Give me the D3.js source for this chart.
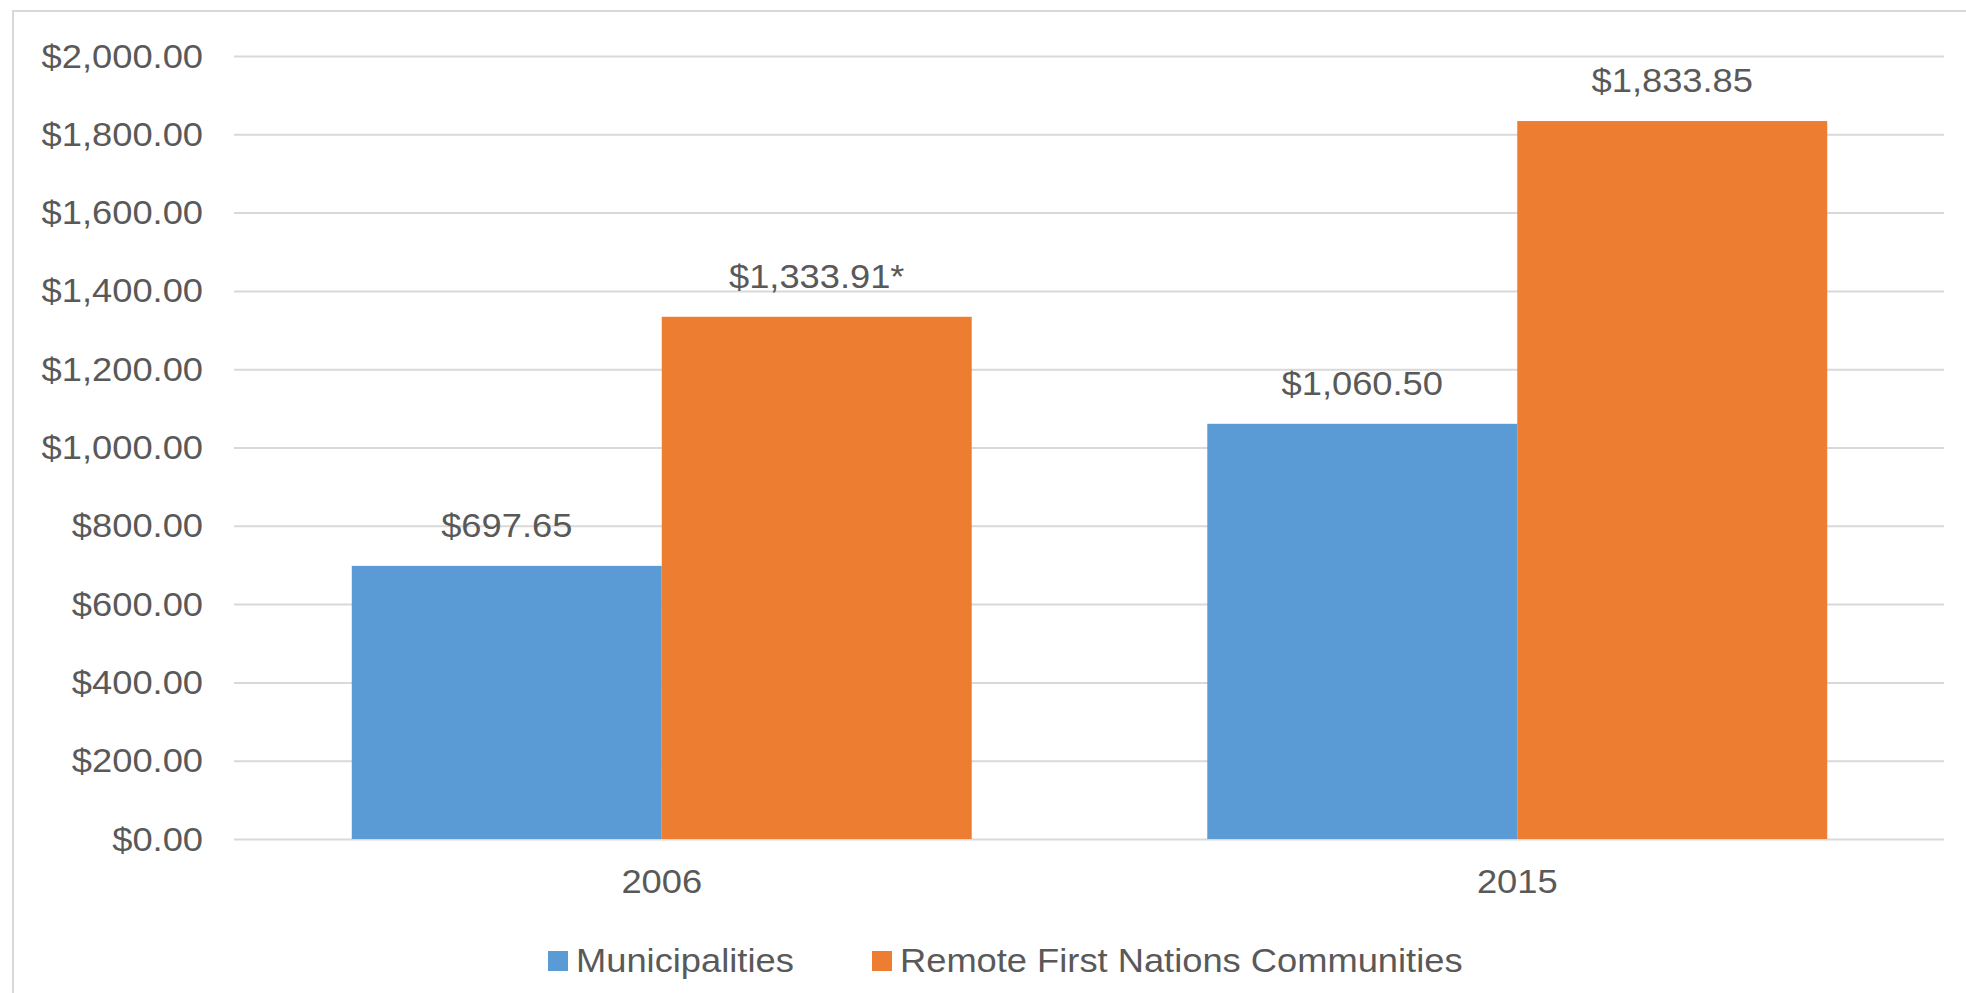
<!DOCTYPE html>
<html>
<head>
<meta charset="utf-8">
<script src="https://cdn.jsdelivr.net/npm/d3@7"></script>
<style>
  body { margin: 0; background: #fff; }
  svg { display: block; }
  text { font-family: "Liberation Sans", Arial, sans-serif; fill: #595959; }
</style>
</head>
<body>
<svg width="1966" height="993"></svg>
<script>
const years = ["2006", "2015"];
const seriesNames = ["Municipalities", "Remote First Nations Communities"];
const municipalities = [697.65, 1060.50];
const remoteFN = [1333.91, 1833.85];
// label suffix per year: [municipalities, remote]
const labelSuffix = [["", "*"], ["", ""]];
const yTicks = [0, 200, 400, 600, 800, 1000, 1200, 1400, 1600, 1800, 2000];
const colors = ["#5b9bd5", "#ed7d31"];

const svg = d3.select("svg");
const area = { left: 234, right: 1945, top: 56, bottom: 839 };
const fs = 33, stretch = 1.1;

// chart border
svg.append("rect")
    .attr("x", 13).attr("y", 11)
    .attr("width", 2000).attr("height", 1100)
    .attr("fill", "none")
    .attr("stroke", "#d9d9d9")
    .attr("stroke-width", 2);

const scX = d3.scaleBand().domain(years).range([area.left, area.right]);
const scSeries = d3.scaleBand().domain(seriesNames).range([0, scX.bandwidth()]).paddingOuter(0.38);
const scY = d3.scaleLinear().domain([0, 2000]).range([area.bottom, area.top]);

// y axis + gridlines
const axisY = d3.axisLeft(scY)
    .tickValues(yTicks)
    .tickFormat(d3.format("$,.2f"))
    .tickSize(-(area.right - area.left - 1))
    .tickPadding(0);
const gy = svg.append("g")
    .attr("transform", `translate(${area.left}, 0)`)
    .call(axisY);
gy.select(".domain").remove();
gy.selectAll("line").attr("stroke", "#d9d9d9").attr("stroke-width", 2);
gy.selectAll("text")
    .attr("x", -31 / stretch)
    .attr("dy", null)
    .attr("y", 11)
    .attr("transform", `scale(${stretch},1)`)
    .style("font-size", fs + "px")
    .style("fill", "#595959")
    .style("font-family", "'Liberation Sans', Arial, sans-serif");

// bars
const data = years.map((y, i) => ({
    year: y,
    values: [
        { name: seriesNames[0], v: municipalities[i], suffix: labelSuffix[i][0] },
        { name: seriesNames[1], v: remoteFN[i], suffix: labelSuffix[i][1] }
    ]
}));

const fmt = d3.format("$,.2f");
data.forEach(d => {
    const g = svg.append("g").attr("transform", `translate(${scX(d.year)}, 0)`);
    d.values.forEach((s, j) => {
        g.append("rect")
            .attr("x", scSeries(s.name))
            .attr("y", scY(s.v))
            .attr("width", scSeries.bandwidth())
            .attr("height", scY(0) - scY(s.v))
            .attr("fill", colors[j]);
        const cx = scSeries(s.name) + scSeries.bandwidth() / 2;
        g.append("text")
            .attr("transform", `translate(${cx}, ${scY(s.v) - 29}) scale(${stretch},1)`)
            .attr("text-anchor", "middle")
            .style("font-size", fs + "px")
            .text(fmt(s.v) + s.suffix);
    });
});

// x labels
years.forEach(y => {
    svg.append("text")
        .attr("transform", `translate(${scX(y) + scX.bandwidth() / 2}, 893) scale(${stretch},1)`)
        .attr("text-anchor", "middle")
        .style("font-size", fs + "px")
        .text(y);
});

// legend
const legendX = [548, 872];
seriesNames.forEach((n, i) => {
    svg.append("rect")
        .attr("x", legendX[i]).attr("y", 951)
        .attr("width", 20).attr("height", 20)
        .attr("fill", colors[i]);
    svg.append("text")
        .attr("transform", `translate(${legendX[i] + 28}, 972) scale(${stretch},1)`)
        .style("font-size", fs + "px")
        .text(n);
});
</script>
</body>
</html>
